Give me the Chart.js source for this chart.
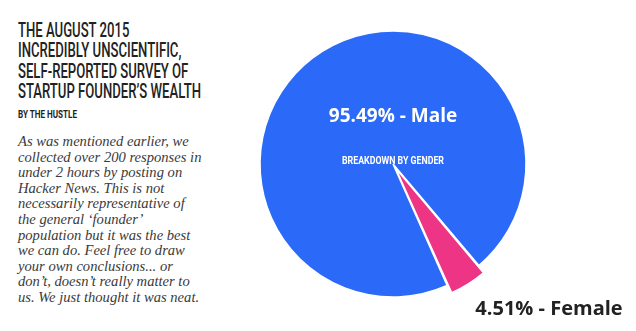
<!DOCTYPE html>
<html>
<head>
<meta charset="utf-8">
<script src="https://cdn.jsdelivr.net/npm/chart.js@4/dist/chart.umd.min.js"></script>
<style>
  html, body { margin: 0; padding: 0; background: #fff; }
  body { width: 636px; height: 331px; position: relative; overflow: hidden; }
  .cond { position: absolute; left: 18px; font-family: Roboto, sans-serif; color: #222; white-space: nowrap; }
  .cond span { display: inline-block; transform-origin: 0 0; }
  #title { top: 20px; font-weight: 500; font-size: 20px; line-height: 20.3px; }
  #byline { top: 109px; font-weight: bold; font-size: 10.5px; line-height: 11px; }
  #blurb {
    position: absolute; left: 18px; top: 134px; margin: 0; white-space: nowrap;
    font-family: "Liberation Serif", serif; font-style: italic;
    font-size: 14.6px; line-height: 15.6px; color: #3a3a3a;
  }
  #pie { position: absolute; left: 240px; top: 0; width: 396px; height: 331px; }
</style>
</head>
<body>
<div id="title" class="cond">
  <span>THE AUGUST 2015</span><br>
  <span>INCREDIBLY UNSCIENTIFIC,</span><br>
  <span>SELF-REPORTED SURVEY OF</span><br>
  <span id="longest">STARTUP FOUNDER’S WEALTH</span>
</div>
<div id="byline" class="cond"><span id="by">BY THE HUSTLE</span></div>
<p id="blurb">As was mentioned earlier, we<br>collected over 200 responses in<br>under 2 hours by posting on<br>Hacker News. This is not<br>necessarily representative of<br>the general ‘founder’<br>population but it was the best<br>we can do. Feel free to draw<br>your own conclusions... or<br>don’t, doesn’t really matter to<br>us. We just thought it was neat.</p>
<div id="pie"><canvas id="genderChart"></canvas></div>
<script>
// gender split of respondents
const genders = ['Male', 'Female'];
const shares = [95.49, 4.51];
const sliceColors = ['#2b6af8', '#ee3484'];
const sliceOffsets = [0, 20];

// squeeze the headings into a condensed look (no condensed face installed)
function squeeze(span, width) {
    const k = width / span.getBoundingClientRect().width;
    return 'scaleX(' + k.toFixed(3) + ')';
}
const titleScale = squeeze(document.getElementById('longest'), 183);
document.querySelectorAll('#title span').forEach(s => { s.style.transform = titleScale; });
const by = document.getElementById('by');
by.style.transform = squeeze(by, 59);

// writes "xx.xx% - Label" on each slice
const sliceLabels = {
    id: 'sliceLabels',
    afterDatasetsDraw(chart) {
        const ctx = chart.ctx;
        const arcs = chart.getDatasetMeta(0).data;
        ctx.save();
        ctx.textBaseline = 'middle';
        arcs.forEach((arc, i) => {
            const text = shares[i].toFixed(2) + '% - ' + genders[i];
            const mid = (arc.startAngle + arc.endAngle) / 2;
            if (i === 0) {
                ctx.font = 'bold 19px "Open Sans", sans-serif';
                ctx.fillStyle = '#ffffff';
                ctx.textAlign = 'center';
                ctx.fillText(text, arc.x, arc.y - 47);
            } else {
                const r = arc.outerRadius + sliceOffsets[i];
                const tipX = arc.x + Math.cos(mid) * r;
                const tipY = arc.y + Math.sin(mid) * r;
                ctx.font = 'bold 20px "Open Sans", sans-serif';
                ctx.fillStyle = '#222222';
                ctx.textAlign = 'left';
                ctx.fillText(text, tipX + 1, tipY + 16);
            }
        });
        // heading in the middle of the pie
        const c = arcs[0];
        ctx.fillStyle = '#ffffff';
        ctx.textAlign = 'center';
        ctx.font = 'bold 10.5px Roboto, sans-serif';
        ctx.fillText('BREAKDOWN BY GENDER', c.x, c.y - 3, 102);
        ctx.restore();
    }
};

new Chart(document.getElementById('genderChart'), {
    type: 'pie',
    data: {
        labels: genders,
        datasets: [{
            data: shares,
            backgroundColor: sliceColors,
            borderColor: '#ffffff',
            borderWidth: 1.5,
            offset: sliceOffsets,
            hoverOffset: 0
        }]
    },
    options: {
        responsive: true,
        maintainAspectRatio: false,
        animation: false,
        rotation: 156,
        radius: 133,
        layout: { padding: { left: 0, right: 90, top: 0, bottom: 3 } },
        plugins: {
            legend: { display: false },
            tooltip: { enabled: false }
        }
    },
    plugins: [sliceLabels]
});
</script>
</body>
</html>
